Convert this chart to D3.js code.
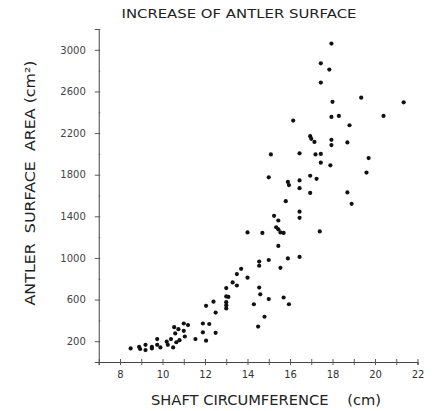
<!DOCTYPE html>
<html>
<head>
<meta charset="utf-8">
<script src="https://cdn.jsdelivr.net/npm/d3@7"></script>
<style>
  body { margin: 0; background: #fff; }
  svg { display: block; }
</style>
</head>
<body>
<div id="chart"></div>
<script>
// shaft circumference (cm) and antler surface area (cm2)
const shaftCm = [
  8.5, 8.9, 8.95, 9.2, 9.2, 9.5, 9.5, 9.75, 9.75, 9.9,
  10.2, 10.25, 10.4, 10.5, 10.55, 10.6, 10.65, 10.75, 10.8, 11.0,
  11.0, 11.05, 11.2, 11.55, 11.9, 11.9, 12.05, 12.05, 12.2, 12.4,
  12.5, 12.5, 13.0, 13.0, 13.0, 13.0, 13.0, 13.1, 13.3, 13.5,
  13.5, 13.7, 14.0, 14.0, 14.3, 14.5, 14.55, 14.55, 14.55, 14.6,
  14.7, 14.8, 15.0, 15.0, 15.0, 15.1, 15.25, 15.45, 15.35, 15.45,
  15.55, 15.7, 15.45, 15.55, 15.7, 15.8, 15.9, 15.9, 15.95, 15.95,
  16.15, 16.45, 16.45, 16.45, 16.45, 16.45, 16.45, 16.95, 17.0, 17.15,
  16.95, 17.25, 16.95, 17.2, 17.45, 17.45, 17.4, 17.45, 17.85, 17.45,
  17.95, 18.0, 17.95, 17.95, 17.95, 17.9, 18.3, 18.8, 18.7, 18.7,
  18.9, 19.35, 19.7, 19.6, 20.4, 21.35,
];
const surfaceCm2 = [
  130, 145, 125, 165, 115, 145, 130, 220, 165, 140,
  195, 165, 220, 140, 335, 275, 190, 315, 210, 370,
  300, 245, 355, 220, 370, 285, 540, 205, 365, 580,
  475, 280, 710, 630, 575, 545, 515, 625, 765, 845,
  735, 895, 810, 1245, 555, 340, 965, 925, 715, 650,
  1240, 435, 980, 605, 1775, 1995, 1405, 1360, 1295, 1275,
  1245, 1240, 1115, 905, 620, 1545, 995, 1730, 1700, 555,
  2320, 2005, 1745, 1670, 1445, 1385, 1010, 2170, 2145, 2115,
  1790, 1760, 1625, 1995, 2000, 1915, 1255, 2870, 2810, 2685,
  3060, 2500, 2355, 2135, 2085, 1890, 2365, 2275, 2110, 1630,
  1520, 2540, 1960, 1820, 2365, 2495,
];

const xTickLabels = [8, 10, 12, 14, 16, 18, 20, 22];
const xMinorTicks = [7, 9, 11, 13, 15, 17, 19, 21];
const yTickLabels = [200, 600, 1000, 1400, 1800, 2200, 2600, 3000];
const yMinorTicks = [400, 800, 1200, 1600, 2000, 2400, 2800, 3200];

const W = 439;
const H = 411;
const margin = { top: 29, right: 22, bottom: 49, left: 98.75 };
const width = 417.5 - margin.left;
const height = H - margin.top - margin.bottom;

const data = shaftCm.map((c, i) => ({ c: c, a: surfaceCm2[i] }));

const svg = d3.select('#chart')
  .append('svg')
  .attr('width', W)
  .attr('height', H)
  .style('background', '#fff');

const g = svg.append('g')
  .attr('transform', `translate(${margin.left},${margin.top})`);

const x = d3.scaleLinear().domain([7, 22]).range([0, width]);
const y = d3.scaleLinear().domain([0, 3200]).range([height, 0]);

const tickColor = '#5a5a5a';
const labelFont = 'DejaVu Sans, sans-serif';

// X axis
const xAxis = g.append('g')
  .attr('transform', `translate(0,${height})`)
  .call(d3.axisBottom(x).tickValues(xTickLabels).tickSize(3).tickPadding(6).tickFormat(d3.format('d')));
xAxis.select('.domain').attr('stroke', '#444').attr('stroke-width', 1.2);
xAxis.selectAll('.tick line').attr('stroke', tickColor).attr('y1', -3);
xAxis.selectAll('.tick text')
  .attr('fill', '#333')
  .style('font-family', labelFont)
  .style('font-size', '10px');
g.append('g')
  .attr('transform', `translate(0,${height})`)
  .call(d3.axisBottom(x).tickValues(xMinorTicks).tickSize(3).tickFormat(''))
  .call((s) => s.select('.domain').remove())
  .selectAll('.tick line').attr('stroke', tickColor).attr('y1', -3);

// Y axis
const yAxis = g.append('g')
  .call(d3.axisLeft(y).tickValues(yTickLabels).tickSize(4).tickPadding(9).tickFormat(d3.format('d')));
yAxis.select('.domain').attr('stroke', '#555').attr('stroke-width', 1.1);
yAxis.selectAll('.tick line').attr('stroke', tickColor).attr('x2', 1.5).attr('x1', -4);
yAxis.selectAll('.tick text')
  .attr('fill', '#444')
  .style('font-family', labelFont)
  .style('font-size', '10px');
g.append('g')
  .call(d3.axisLeft(y).tickValues(yMinorTicks).tickSize(3).tickFormat(''))
  .call((s) => s.select('.domain').remove())
  .selectAll('.tick line').attr('stroke', tickColor).attr('x2', 1.5);

// Points
g.append('g')
  .selectAll('circle')
  .data(data)
  .enter().append('circle')
  .attr('cx', (d) => x(d.c))
  .attr('cy', (d) => y(d.a))
  .attr('r', 2.1)
  .attr('fill', '#111');

// Titles
svg.append('text')
  .attr('x', 239)
  .attr('y', 18)
  .attr('text-anchor', 'middle')
  .attr('textLength', 235)
  .attr('lengthAdjust', 'spacingAndGlyphs')
  .style('font-family', labelFont)
  .style('font-size', '12px')
  .attr('fill', '#222')
  .text('INCREASE OF ANTLER SURFACE');

svg.append('text')
  .attr('x', 266)
  .attr('y', 405)
  .attr('text-anchor', 'middle')
  .attr('textLength', 230)
  .attr('lengthAdjust', 'spacingAndGlyphs')
  .style('white-space', 'pre')
  .style('font-family', labelFont)
  .style('font-size', '14px')
  .attr('fill', '#222')
  .text('SHAFT CIRCUMFERENCE    (cm)');

svg.append('text')
  .attr('transform', 'translate(35,183) rotate(-90)')
  .attr('text-anchor', 'middle')
  .attr('textLength', 245)
  .attr('lengthAdjust', 'spacingAndGlyphs')
  .style('white-space', 'pre')
  .style('font-family', labelFont)
  .style('font-size', '14px')
  .attr('fill', '#222')
  .text('ANTLER  SURFACE  AREA (cm²)');
</script>
</body>
</html>
